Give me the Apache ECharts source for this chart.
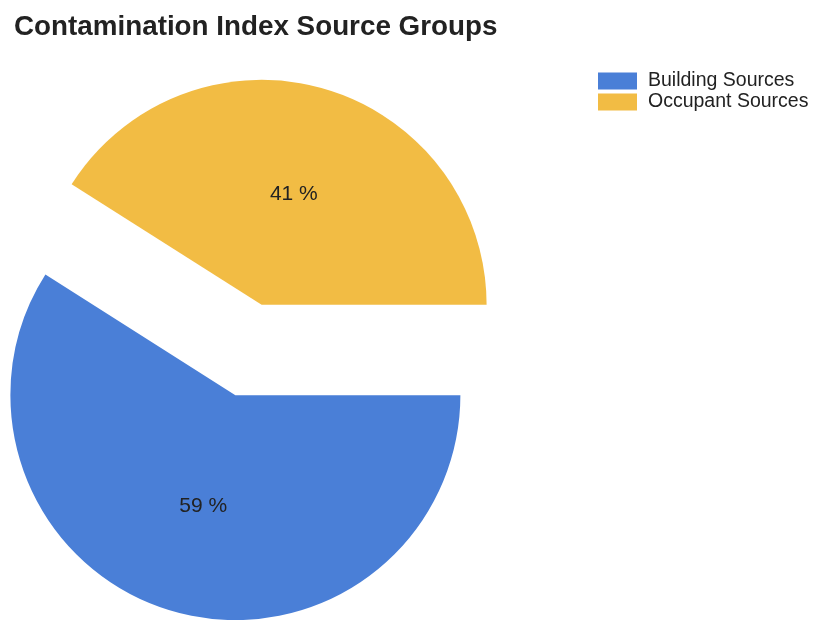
<!DOCTYPE html>
<html><head><meta charset="utf-8">
<script src="https://cdn.jsdelivr.net/npm/echarts@6/dist/echarts.min.js"></script>
<style>html,body{margin:0;padding:0;background:#fff}#c{width:814px;height:620px}</style>
</head><body><div id="c"></div>
<script>
const categories = ['Building Sources', 'Occupant Sources'];
const values = [59, 41];
const colors = ['#4a7fd7', '#f2bc44'];

const chart = echarts.init(document.getElementById('c'), null, {renderer: 'canvas'});
chart.setOption({
  animation: false,
  backgroundColor: '#ffffff',
  title: {
    text: 'Contamination Index Source Groups',
    left: 9, top: 8,
    textStyle: {fontFamily: 'Liberation Sans, Arial, sans-serif', fontSize: 27.8, fontWeight: 'bold', color: '#222'}
  },
  legend: {
    orient: 'vertical', left: 593, top: 66,
    itemWidth: 39, itemHeight: 17, itemGap: 1,
    icon: 'rect',
    selectedMode: false,
    textStyle: {fontFamily: 'Liberation Sans, Arial, sans-serif', fontSize: 19.5, lineHeight: 17, color: '#222', padding: [0, 0, 0, 6]},
    data: categories
  },
  series: [{
    type: 'pie',
    center: [248.5, 350],
    radius: [0, 225],
    startAngle: 0,
    clockwise: true,
    selectedMode: 'multiple',
    selectedOffset: 47,
    label: {
      position: 'inside',
      formatter: p => p.value + ' %',
      fontFamily: 'Liberation Sans, Arial, sans-serif',
      fontSize: 21,
      color: '#222'
    },
    labelLine: {show: false},
    emphasis: {disabled: true},
    data: categories.map((c, i) => ({name: c, value: values[i], selected: true, itemStyle: {color: colors[i]}}))
  }]
});
</script></body></html>
